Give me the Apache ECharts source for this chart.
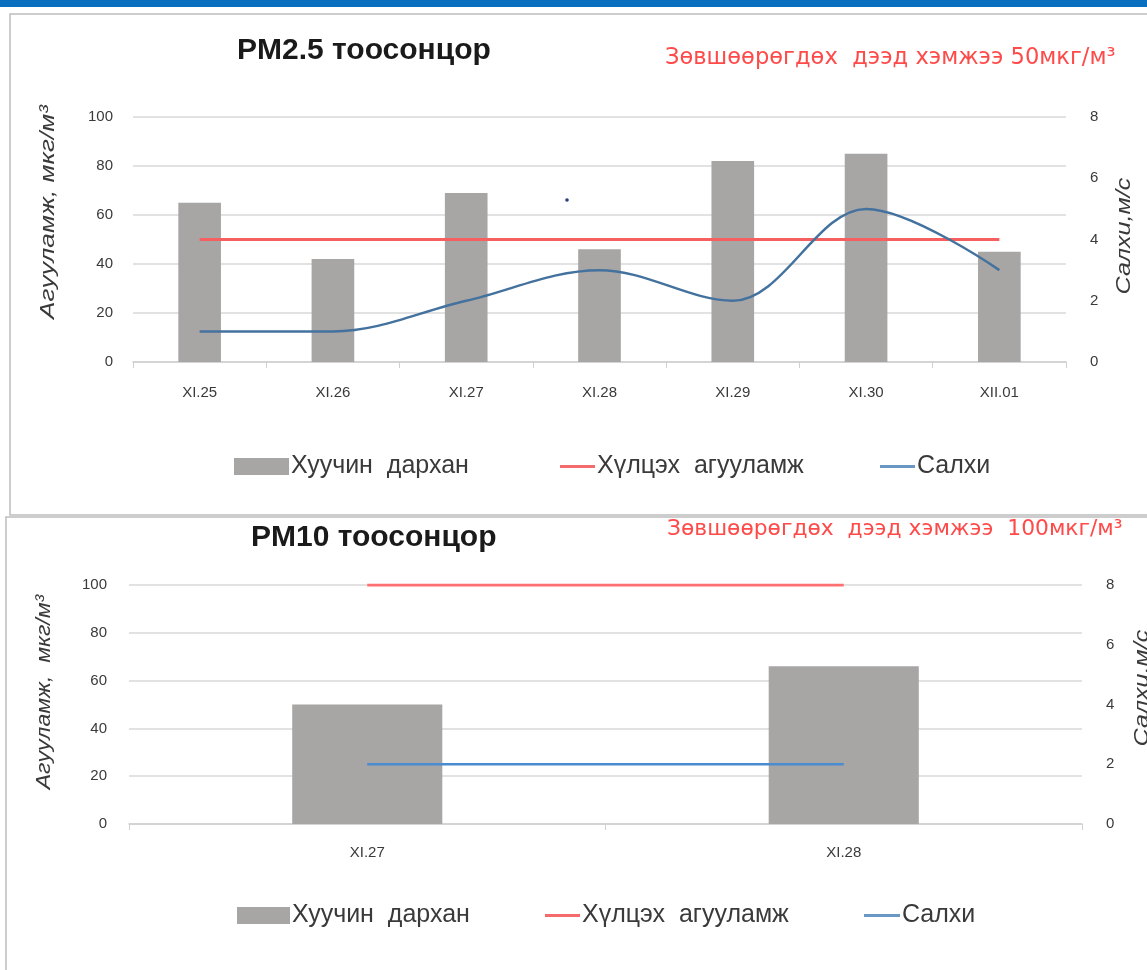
<!DOCTYPE html>
<html>
<head>
<meta charset="utf-8">
<script src="https://cdn.jsdelivr.net/npm/echarts@6/dist/echarts.min.js"></script>
<style>
  html, body { margin: 0; padding: 0; background: #fff; }
  #chart { width: 1147px; height: 970px; }
</style>
</head>
<body>
<div id="chart"></div>
<script>
// PM2.5 chart data
const days25 = ['XI.25', 'XI.26', 'XI.27', 'XI.28', 'XI.29', 'XI.30', 'XII.01'];
const pm25 = [65, 42, 69, 46, 82, 85, 45];
const limit25 = [50, 50, 50, 50, 50, 50, 50];
const wind25 = [1, 1, 2, 3, 2, 5, 3];

// PM10 chart data
const days10 = ['XI.27', 'XI.28'];
const pm10 = [50, 66];
const limit10 = [100, 100];
const wind10 = [2, 2];

const FONT = 'Liberation Sans, Arial, sans-serif';
const WIDE = 'DejaVu Sans, Verdana, sans-serif';
const NAME_BAR = 'Хуучин  дархан';
const NAME_LIMIT = 'Хүлцэх  агууламж';
const NAME_WIND = 'Салхи';
const TXT = '#3a3a3a';

const chart = echarts.init(document.getElementById('chart'), null, { renderer: 'canvas' });

function leftAxis(gridIndex, margin) {
  return {
    type: 'value', gridIndex, min: 0, max: 100, interval: 20,
    axisLine: { show: false }, axisTick: { show: false },
    axisLabel: { color: TXT, fontSize: 15, fontFamily: FONT, margin },
    splitLine: { lineStyle: { color: '#d9d9d9', width: 1.5 } },
  };
}

function rightAxis(gridIndex, margin) {
  return {
    type: 'value', gridIndex, position: 'right', min: 0, max: 8, interval: 2,
    axisLine: { show: false }, axisTick: { show: false },
    axisLabel: { color: TXT, fontSize: 15, fontFamily: FONT, margin },
    splitLine: { show: false },
  };
}

function catAxis(gridIndex, data, margin) {
  return {
    type: 'category', gridIndex, data,
    axisLine: { lineStyle: { color: '#d0d0d0', width: 1.5 } },
    axisTick: { show: true, length: 6, lineStyle: { color: '#d0d0d0' } },
    axisLabel: { color: TXT, fontSize: 15, fontFamily: FONT, margin },
  };
}

// one legend per item so each icon can have its own size
function legendItem(name, left, top, w, h) {
  return {
    left, top, padding: 0, itemWidth: w, itemHeight: h, itemGap: 0,
    data: [{ name, icon: 'rect' }],
    textStyle: { color: TXT, fontSize: 25, fontFamily: FONT, padding: [0, 0, 0, -3] },
    selectedMode: false,
  };
}

// rotated axis title, stretched a bit along the text like the original
function axisName(text, x, y, sx) {
  return {
    type: 'text', x, y, rotation: Math.PI / 2, scaleX: sx,
    style: {
      text, fill: TXT, fontSize: 21, fontStyle: 'italic', fontFamily: FONT,
      align: 'center', verticalAlign: 'middle',
    },
  };
}

const option = {
  backgroundColor: '#fff',
  animation: false,
  title: [
    { text: 'PM2.5 тоосонцор', left: 237, top: 36, padding: 0,
      textStyle: { fontSize: 30, fontWeight: 'bold', color: '#1a1a1a', fontFamily: FONT } },
    { text: 'Зөвшөөрөгдөх  дээд хэмжээ 50мкг/м³', left: 665, top: 47, padding: 0,
      textStyle: { fontSize: 22.6, fontWeight: 'normal', color: '#ff4a4a', fontFamily: WIDE } },
    { text: 'PM10 тоосонцор', left: 251, top: 523, padding: 0,
      textStyle: { fontSize: 30, fontWeight: 'bold', color: '#1a1a1a', fontFamily: FONT } },
    { text: 'Зөвшөөрөгдөх  дээд хэмжээ  100мкг/м³', left: 667, top: 518, padding: 0,
      textStyle: { fontSize: 21.8, fontWeight: 'normal', color: '#ff4a4a', fontFamily: WIDE } },
  ],
  legend: [
    legendItem(NAME_BAR, 234, 454, 55, 17),
    legendItem(NAME_LIMIT, 560, 454, 35, 3),
    legendItem(NAME_WIND, 880, 454, 35, 3),
    legendItem(NAME_BAR, 237, 903, 53, 17),
    legendItem(NAME_LIMIT, 545, 903, 35, 3),
    legendItem(NAME_WIND, 864, 903, 36, 3),
  ],
  grid: [
    { left: 133, right: 81, top: 117, bottom: 608 },
    { left: 129, right: 65, top: 585, bottom: 146 },
  ],
  xAxis: [catAxis(0, days25, 23), catAxis(1, days10, 21)],
  yAxis: [leftAxis(0, 20), rightAxis(0, 24), leftAxis(1, 22), rightAxis(1, 24)],
  series: [
    { name: NAME_BAR, type: 'bar', xAxisIndex: 0, yAxisIndex: 0, data: pm25,
      barWidth: '32%', itemStyle: { color: '#a8a5a5' } },
    { name: NAME_LIMIT, type: 'line', xAxisIndex: 0, yAxisIndex: 0, data: limit25,
      symbol: 'none', lineStyle: { color: '#f55f5f', width: 3 }, itemStyle: { color: '#f56a6a' } },
    { name: NAME_WIND, type: 'line', xAxisIndex: 0, yAxisIndex: 1, data: wind25,
      smooth: 0.35, symbol: 'none', lineStyle: { color: '#44729e', width: 2.5 }, itemStyle: { color: '#6a98c4' } },

    { name: NAME_BAR, type: 'bar', xAxisIndex: 1, yAxisIndex: 2, data: pm10,
      barWidth: '31.5%', itemStyle: { color: '#a8a5a5' } },
    { name: NAME_LIMIT, type: 'line', xAxisIndex: 1, yAxisIndex: 2, data: limit10,
      symbol: 'none', lineStyle: { color: '#ff7070', width: 3 }, itemStyle: { color: '#ff5a5a' } },
    { name: NAME_WIND, type: 'line', xAxisIndex: 1, yAxisIndex: 3, data: wind10,
      symbol: 'none', lineStyle: { color: '#4a8cd0', width: 2.5 }, itemStyle: { color: '#4a8cd0' } },
  ],
  graphic: [
    // blue strip on top
    { type: 'rect', shape: { x: 0, y: 0, width: 1147, height: 7 }, style: { fill: '#0b6fbf' }, silent: true },
    // panel frames
    { type: 'rect', shape: { x: 10, y: 14, width: 1160, height: 501 },
      style: { fill: 'none', stroke: '#bdbdbd', lineWidth: 1.5 }, silent: true },
    { type: 'rect', shape: { x: 6, y: 517, width: 1170, height: 470 },
      style: { fill: 'none', stroke: '#bdbdbd', lineWidth: 1.5 }, silent: true },
    // axis titles
    axisName('Агууламж, мкг/м³', 48, 212, 1.25),
    axisName('Салхи,м/с', 1124, 236, 1.2),
    axisName('Агууламж,  мкг/м³', 44, 692, 1.1),
    axisName('Салхи,м/с', 1142, 688, 1.2),
    // small stray mark in the original
    { type: 'circle', shape: { cx: 567, cy: 200, r: 1.8 }, style: { fill: '#2b3f7a' }, silent: true },
  ],
};

chart.setOption(option);
</script>
</body>
</html>
